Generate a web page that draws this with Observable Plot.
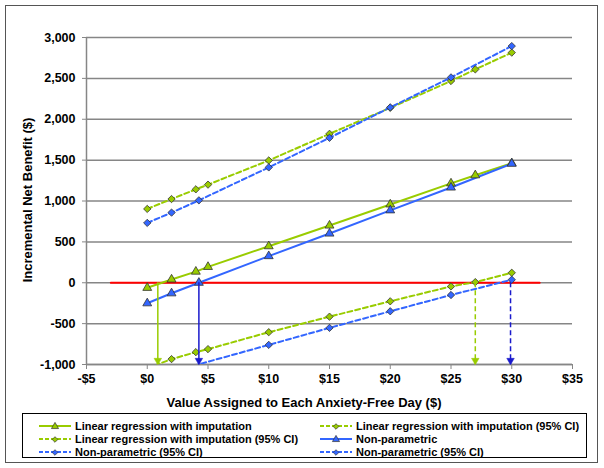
<!DOCTYPE html>
<html><head><meta charset="utf-8">
<script src="https://cdn.jsdelivr.net/npm/d3@7"></script>
<script src="https://cdn.jsdelivr.net/npm/@observablehq/plot@0.6"></script>
<style>
body{margin:0;background:#fff;font-family:"Liberation Sans",Arial,sans-serif;}
#wrap{position:relative;width:604px;height:468px;overflow:hidden;background:#fff}
#chart{position:absolute;left:0;top:0}
#ytitle{position:absolute;left:27px;top:200px;transform:translate(-50%,-50%) rotate(-90deg);white-space:nowrap;font-weight:bold;font-size:13px;color:#000}
#xtitle{position:absolute;left:0;top:395px;width:608px;height:16px;line-height:16px;text-align:center;font-weight:bold;font-size:13px;color:#000}
#legend{position:absolute;left:22px;top:413px;width:565px;height:45px;border:1px solid #000;box-sizing:border-box}
.item{position:absolute;height:13px;display:flex;align-items:center;font-size:11px;font-weight:bold;white-space:nowrap;color:#000}
.item svg{margin-right:3px}
#frame{position:absolute;left:5px;top:5px;width:593px;height:458px;border:1px solid #555;box-sizing:border-box;pointer-events:none}
</style></head><body>
<div id="wrap">
  <div id="chart"></div>
  <div id="ytitle"></div>
  <div id="xtitle"></div>
  <div id="legend"></div>
  <div id="frame"></div>
</div>
<script>
// ---- data ----
const xTitle = "Value Assigned to Each Anxiety-Free Day ($)";
const yTitle = "Incremental Net Benefit ($)";
const xTicks = [-5, 0, 5, 10, 15, 20, 25, 30, 35];
const yTicks = [-1000, -500, 0, 500, 1000, 1500, 2000, 2500, 3000];

// Linear regression with imputation
const linX = [0, 2, 4, 5, 10, 15, 20, 25, 27, 30];
const linNB = [-62, 40, 136, 194, 447, 700, 958, 1215, 1315, 1463];
const linUpper = [903, 1024, 1143, 1200, 1496, 1822, 2140, 2468, 2610, 2815];
const linLower = [-1045, -934, -849, -812, -605, -415, -227, -45, 8, 122];

// Non-parametric
const npX = [0, 2, 4.25, 10, 15, 20, 25, 30];
const npNB = [-251, -129, 0, 326, 602, 886, 1165, 1456];
const npUpper = [732, 858, 1008, 1411, 1773, 2145, 2512, 2895];
const npLowerX = [0, 2, 10, 15, 20, 25, 30];
const npLower = [-1170, -1090, -760, -552, -349, -150, 37];

// zero line and break-even arrows
const zeroX = [-3, 32.3];
const zeroY = [0, 0];
const arrowX = [0.87, 4.25, 27.0, 29.9];
const arrowTop = [0, 0, 0, 0];
const arrowBottom = [-1000, -1000, -1000, -1000];

const legendLabels = [
  "Linear regression with imputation",
  "Linear regression with imputation (95% CI)",
  "Linear regression with imputation (95% CI)",
  "Non-parametric",
  "Non-parametric (95% CI)",
  "Non-parametric (95% CI)"
];

// ---- styles ----
const green = "#99cc00", blue = "#3366ff", darkBlue = "#1a1acc", red = "#ff0000", grid = "#868686", edge = "#333";
const rows = (xs, ys) => xs.map((x, i) => ({x, y: ys[i]}));
const series = [
  {data: rows(linX, linNB), color: green, dash: null, symbol: "triangle"},
  {data: rows(linX, linUpper), color: green, dash: "5,3", symbol: "diamond2"},
  {data: rows(linX, linLower), color: green, dash: "5,3", symbol: "diamond2"},
  {data: rows(npX, npNB), color: blue, dash: null, symbol: "triangle"},
  {data: rows(npX, npUpper), color: blue, dash: "5,3", symbol: "diamond2"},
  {data: rows(npLowerX, npLower), color: blue, dash: "5,3", symbol: "diamond2"}
];
const arrowStyle = [
  {color: green, dash: null}, {color: darkBlue, dash: null},
  {color: green, dash: "5,3"}, {color: darkBlue, dash: "5,3"}
];
const arrows = arrowX.map((x, i) => ({x, y1: arrowTop[i], y2: arrowBottom[i], ...arrowStyle[i]}));

const fmtY = d => d.toLocaleString("en-US");
const fmtX = d => (d < 0 ? "-" : "") + "$" + Math.abs(d);

const marks = [
  Plot.gridY(yTicks, {stroke: grid, strokeOpacity: 1, strokeWidth: 1.5}),
  Plot.ruleX([-5], {stroke: grid, strokeWidth: 1.5}),
  Plot.ruleY([-1000], {stroke: grid, strokeWidth: 1.5}),
  Plot.axisY(yTicks, {tickFormat: fmtY, tickSize: 4, tickPadding: 7, stroke: grid, label: null, fontSize: 12.5}),
  Plot.axisX(xTicks, {tickFormat: fmtX, tickSize: 5, tickPadding: 5, stroke: grid, label: null, fontSize: 12.5}),
  Plot.line(rows(zeroX, zeroY), {x: "x", y: "y", stroke: red, strokeWidth: 2})
];
for (const s of series) {
  marks.push(Plot.line(s.data, {x: "x", y: "y", stroke: s.color, strokeWidth: 2, strokeDasharray: s.dash, clip: true}));
}
for (const s of series) {
  marks.push(Plot.dot(s.data, {x: "x", y: "y", symbol: s.symbol, r: 3.3, fill: s.color, stroke: edge, strokeWidth: 0.8, clip: true}));
}
for (const a of arrows) {
  marks.push(Plot.ruleX([a], {x: "x", y1: "y1", y2: "y2", stroke: a.color, strokeWidth: 1.5, strokeDasharray: a.dash}));
  marks.push(Plot.dot([a], {x: "x", y: "y2", symbol: "triangle", rotate: 180, r: 2.8, dy: -4, fill: a.color, stroke: a.color, strokeWidth: 0.5}));
}

const chart = Plot.plot({
  width: 604, height: 395,
  marginLeft: 86, marginRight: 32, marginTop: 37, marginBottom: 31,
  x: {domain: [-5, 35]},
  y: {domain: [-1000, 3000]},
  style: {fontFamily: "'Liberation Sans', Arial, sans-serif", fontSize: "12.5px", fontWeight: "bold", color: "#000", background: "transparent"},
  marks
});
document.getElementById("chart").appendChild(chart);
document.getElementById("xtitle").textContent = xTitle;
document.getElementById("ytitle").textContent = yTitle;

// ---- legend ----
const legendStyle = [
  {color: green, dash: null, symbol: "triangle"},
  {color: green, dash: "4,2", symbol: "diamond"},
  {color: green, dash: "4,2", symbol: "diamond"},
  {color: blue, dash: null, symbol: "triangle"},
  {color: blue, dash: "4,2", symbol: "diamond"},
  {color: blue, dash: "4,2", symbol: "diamond"}
];
const leg = d3.select("#legend");
legendLabels.forEach((label, i) => {
  const col = i % 2, row = Math.floor(i / 2);
  const st = legendStyle[i];
  const it = leg.append("div").attr("class", "item")
    .style("left", (col ? 296 : 15) + "px")
    .style("top", (5 + row * 13.3) + "px");
  const sv = it.append("svg").attr("width", 34).attr("height", 10);
  sv.append("line").attr("x1", 1).attr("x2", 33).attr("y1", 5).attr("y2", 5)
    .attr("stroke", st.color).attr("stroke-width", 2).attr("stroke-dasharray", st.dash);
  const sym = st.symbol === "triangle" ? d3.symbolTriangle : d3.symbolDiamond2;
  sv.append("path").attr("d", d3.symbol(sym, st.symbol === "triangle" ? 22 : 20)())
    .attr("transform", "translate(17,5.5)").attr("fill", st.color).attr("stroke", edge).attr("stroke-width", 0.7);
  it.append("span").text(label);
});
</script>
</body></html>
